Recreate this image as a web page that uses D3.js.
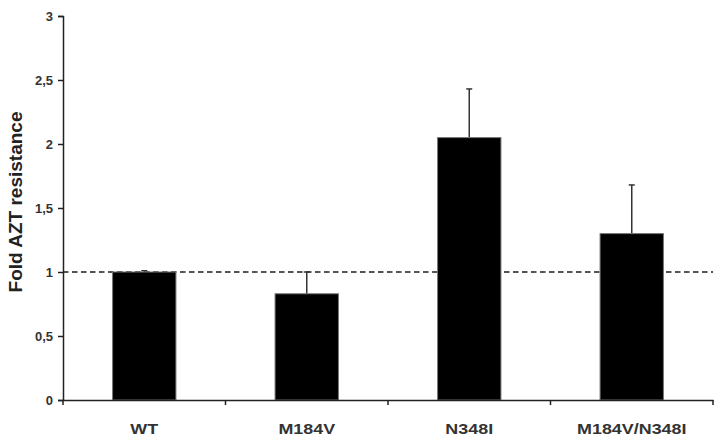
<!DOCTYPE html>
<html>
<head>
<meta charset="utf-8">
<script src="https://cdn.jsdelivr.net/npm/d3@7"></script>
<style>
  body { margin: 0; background: #fff; }
  text { font-family: "Liberation Sans", Arial, sans-serif; }
</style>
</head>
<body>
<svg id="drawing_region"></svg>
<script>
// data
const categories = ["WT", "M184V", "N348I", "M184V/N348I"];
const values = [1.0, 0.83, 2.05, 1.30];
const errors = [0.01, 0.17, 0.38, 0.38];
const yTicks = [0, 0.5, 1, 1.5, 2, 2.5, 3];
const refLine = 1;

const width = 714, height = 446;
const margin = {top: 16, right: 1, bottom: 46, left: 63};

const svg = d3.select("#drawing_region")
    .attr("width", width)
    .attr("height", height);

const chart = svg.append("g")
    .attr("transform", `translate(${margin.left}, ${margin.top})`);

const inner_width = width - margin.left - margin.right;
const inner_height = height - margin.top - margin.bottom;

const x = d3.scaleBand()
    .domain(categories)
    .range([0, inner_width])
    .paddingInner(0.61)
    .paddingOuter(0.305);

const xAxisScale = d3.scaleBand()
    .domain(categories)
    .range([0, inner_width]);

const y = d3.scaleLinear()
    .domain([0, 3])
    .range([inner_height, 0]);

// dashed reference line behind the bars
chart.append("line")
    .attr("x1", 0)
    .attr("x2", inner_width)
    .attr("y1", y(refLine))
    .attr("y2", y(refLine))
    .attr("stroke", "#555")
    .attr("stroke-width", 2)
    .attr("stroke-dasharray", "5.5,3.5");

const rows = categories.map((c, i) => ({cat: c, value: values[i], err: errors[i]}));

// error bars (upper only)
chart.selectAll(".err")
    .data(rows)
    .enter()
    .append("line")
    .attr("class", "err")
    .attr("x1", d => x(d.cat) + x.bandwidth() / 2)
    .attr("x2", d => x(d.cat) + x.bandwidth() / 2)
    .attr("y1", d => y(d.value))
    .attr("y2", d => y(d.value + d.err))
    .attr("stroke", "#333")
    .attr("stroke-width", 1.5);

chart.selectAll(".cap")
    .data(rows)
    .enter()
    .append("line")
    .attr("class", "cap")
    .attr("x1", d => x(d.cat) + x.bandwidth() / 2 - 3)
    .attr("x2", d => x(d.cat) + x.bandwidth() / 2 + 3)
    .attr("y1", d => y(d.value + d.err))
    .attr("y2", d => y(d.value + d.err))
    .attr("stroke", "#333")
    .attr("stroke-width", 1.5);

chart.selectAll(".bar")
    .data(rows)
    .enter()
    .append("rect")
    .attr("class", "bar")
    .attr("x", d => x(d.cat))
    .attr("y", d => y(d.value))
    .attr("width", x.bandwidth())
    .attr("height", d => inner_height - y(d.value))
    .attr("fill", "#000")
    .attr("stroke", "#777")
    .attr("stroke-width", 1);

// y axis
const yAxis = chart.append("g")
    .call(d3.axisLeft(y)
        .tickValues(yTicks)
        .tickSize(5)
        .tickFormat(d => String(d).replace(".", ",")));

// x axis, ticks on band boundaries
const xAxis = chart.append("g")
    .attr("transform", `translate(0, ${inner_height})`)
    .call(d3.axisBottom(xAxisScale).tickSize(0).tickPadding(24));

xAxis.selectAll(".bnd")
    .data(categories.concat(["_end"]))
    .enter()
    .append("line")
    .attr("class", "bnd")
    .attr("x1", (d, i) => i * xAxisScale.step())
    .attr("x2", (d, i) => i * xAxisScale.step())
    .attr("y1", 0)
    .attr("y2", 5)
    .attr("stroke", "#222")
    .attr("stroke-width", 1.5);

[yAxis, xAxis].forEach(g => {
    g.select(".domain").attr("stroke", "#222").attr("stroke-width", 1.5);
    g.selectAll(".tick line").attr("stroke", "#222").attr("stroke-width", 1.5);
    g.selectAll(".tick text")
        .attr("fill", "#333")
        .style("font-size", "14px")
        .style("font-weight", "bold")
        .style("font-family", "'Liberation Sans', Arial, sans-serif");
});
yAxis.selectAll(".tick text").attr("x", -10).style("font-size", "13px");
// the original labels are drawn horizontally stretched
xAxis.selectAll(".tick text").attr("transform", "scale(1.28,1)");

svg.append("text")
    .attr("transform", `translate(22, 202) rotate(-90)`)
    .attr("text-anchor", "middle")
    .attr("fill", "#222")
    .style("font-size", "19px")
    .style("font-weight", "bold")
    .text("Fold AZT resistance");
</script>
</body>
</html>
